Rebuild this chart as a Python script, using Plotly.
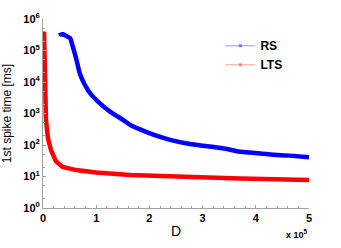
import plotly.graph_objects as go

# Data (D in absolute units, time in ms)
rs_D = [0.32e5, 0.34e5, 0.37e5, 0.41e5, 0.45e5, 0.51e5, 0.57e5, 0.63e5, 0.69e5, 0.79e5,
        0.91e5, 1.07e5, 1.26e5, 1.51e5, 1.64e5, 1.79e5, 2.01e5, 2.39e5, 2.76e5, 3.14e5,
        3.52e5, 3.67e5, 3.89e5, 4.27e5, 4.64e5, 5.0e5]
rs_time = [3.7e5, 3.2e5, 3.3e5, 3.1e5, 2.8e5, 2.45e5, 1.17e5, 5.0e4, 1.9e4, 7.9e3,
           3.9e3, 2.1e3, 1.15e3, 620, 430, 330, 234, 145, 107, 89,
           71, 62, 58, 50, 46, 41]

lts_D = [0.019e5, 0.028e5, 0.038e5, 0.056e5, 0.094e5, 0.15e5, 0.244e5, 0.37e5,
         0.62e5, 1.0e5, 1.64e5, 2.58e5, 3.7e5, 5.0e5]
lts_time = [4.0e5, 3.2e4, 3.2e3, 630, 160, 69, 30, 20, 16, 13.5, 11.2, 9.8, 8.7, 7.8]

x_tickvals = [0, 1e5, 2e5, 3e5, 4e5, 5e5]
x_ticktext = ["0", "1", "2", "3", "4", "5"]
y_tickvals = [1, 10, 100, 1e3, 1e4, 1e5, 1e6]
y_ticktext = ["10<sup>0</sup>", "10<sup>1</sup>", "10<sup>2</sup>", "10<sup>3</sup>",
              "10<sup>4</sup>", "10<sup>5</sup>", "10<sup>6</sup>"]

FONT = "Liberation Sans, Arial, sans-serif"

fig = go.Figure()
fig.add_trace(go.Scatter(x=rs_D, y=rs_time, mode="lines", showlegend=False,
                         line=dict(color="#0000ff", width=4.5, shape="spline", smoothing=0.5)))
fig.add_trace(go.Scatter(x=lts_D, y=lts_time, mode="lines", showlegend=False,
                         line=dict(color="#ff0000", width=4.5)))
# legend entries
fig.add_trace(go.Scatter(x=[None], y=[None], mode="lines+markers", name="RS",
                         line=dict(color="rgba(80,80,255,0.6)", width=1),
                         marker=dict(size=3, color="rgba(80,80,255,0.7)", symbol="square")))
fig.add_trace(go.Scatter(x=[None], y=[None], mode="lines+markers", name="LTS",
                         line=dict(color="rgba(255,90,90,0.6)", width=1),
                         marker=dict(size=3, color="rgba(255,90,90,0.7)", symbol="square")))

axis_common = dict(showline=True, linecolor="#a0a0a0", linewidth=1, showgrid=False,
                   zeroline=False, ticks="inside", ticklen=3, tickcolor="#a0a0a0",
                   tickfont=dict(family=FONT, size=11, color="black", weight="bold"),
                   mirror=False, automargin=False)

fig.update_xaxes(range=[0, 5e5], tickvals=x_tickvals, ticktext=x_ticktext,
                 title=dict(text="D", font=dict(family=FONT, size=14, color="black"), standoff=2),
                 minor=dict(ticks="inside", ticklen=2, tickcolor="#a0a0a0", dtick=2e4),
                 **axis_common)
fig.update_yaxes(type="log", range=[0, 6], tickvals=y_tickvals, ticktext=y_ticktext,
                 title=dict(text="1st spike time [ms]", font=dict(family=FONT, size=12, color="black")),
                 minor=dict(ticks="inside", ticklen=2, tickcolor="#a0a0a0"),
                 **axis_common)

fig.add_annotation(x=1.0, y=0, xref="paper", yref="paper", xanchor="right", yanchor="top",
                   yshift=-18, xshift=1, showarrow=False,
                   text="<b>x 10<sup>5</sup></b>", font=dict(family=FONT, size=9, color="black"))

fig.update_layout(
    width=341, height=248,
    margin=dict(l=43, r=32, t=19, b=40),
    plot_bgcolor="white", paper_bgcolor="white",
    showlegend=True,
    legend=dict(x=0.667, y=0.935, xanchor="left", yanchor="top", bgcolor="rgba(0,0,0,0)",
                font=dict(family=FONT, size=12, color="black", weight="bold"),
                itemwidth=30, tracegroupgap=0),
)

fig.write_html("out.html", config={"displayModeBar": False},
               post_script="document.body.style.margin='0';")
